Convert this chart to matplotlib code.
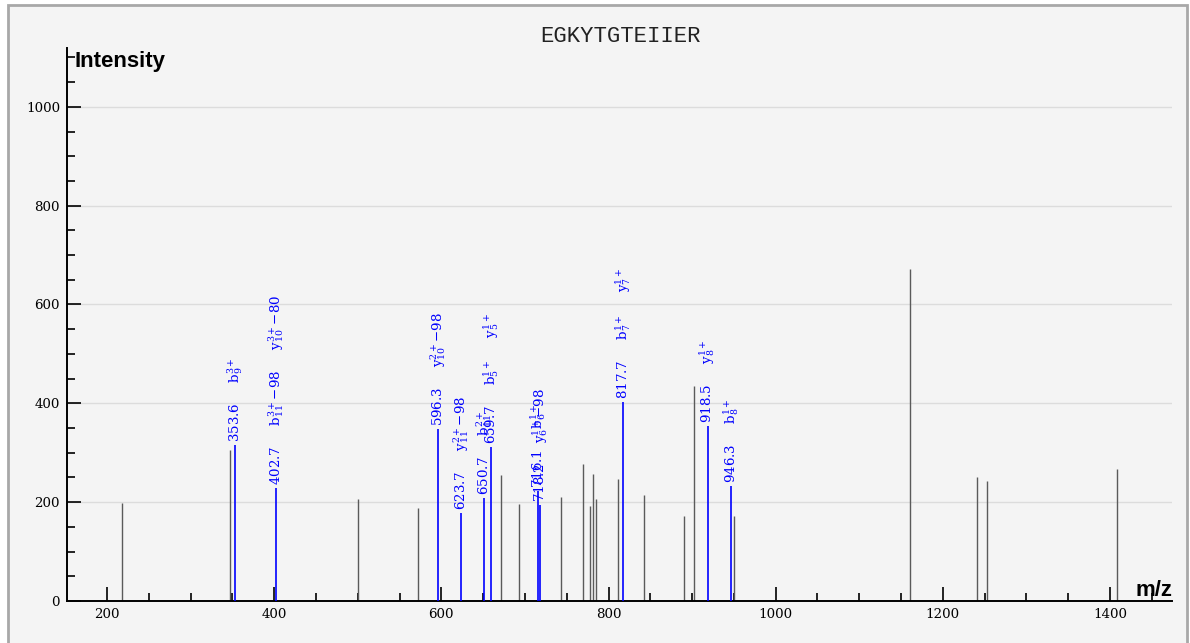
import matplotlib
matplotlib.use("Agg")
import matplotlib.pyplot as plt
from matplotlib.patches import Rectangle
from matplotlib.ticker import MultipleLocator

plt.rcParams["mathtext.fontset"] = "dejavuserif"

title = "EGKYTGTEIIER"

# unannotated peaks (m/z, intensity)
gray_mz = [218.3, 346.7, 500.3, 572.1, 670.9, 692.9, 743.2, 769.5, 777.4, 781.5,
           785.4, 811.7, 842.8, 889.9, 902.3, 949.7, 1160.8, 1240.4, 1253.2, 1408.8]
gray_int = [198, 306, 206, 188, 254, 196, 211, 278, 193, 257,
            207, 246, 215, 173, 435, 172, 672, 251, 243, 267]

# annotated (matched) peaks
ion_mz = [353.6, 402.7, 596.3, 623.7, 650.7, 659.7, 716.1, 718.2, 817.7, 918.5, 946.3]
ion_int = [316, 229, 348, 178, 208, 312, 223, 194, 403, 355, 233]
ion_annots = [
    [r"$\mathrm{b}_{9}^{3+}$"],
    [r"$\mathrm{b}_{11}^{3+}$" + "\u221298", r"$\mathrm{y}_{10}^{3+}$" + "\u221280"],
    [r"$\mathrm{y}_{10}^{2+}$" + "\u221298"],
    [r"$\mathrm{y}_{11}^{2+}$" + "\u221298"],
    [r"$\mathrm{b}_{11}^{2+}$"],
    [r"$\mathrm{b}_{5}^{1+}$", r"$\mathrm{y}_{5}^{1+}$"],
    [r"$\mathrm{b}_{6}^{1+}$"],
    [r"$\mathrm{y}_{6}^{1+}$" + "\u221298"],
    [r"$\mathrm{b}_{7}^{1+}$", r"$\mathrm{y}_{7}^{1+}$"],
    [r"$\mathrm{y}_{8}^{1+}$"],
    [r"$\mathrm{b}_{8}^{1+}$"],
]

y_ticks = [0, 200, 400, 600, 800, 1000]
x_ticks = [200, 400, 600, 800, 1000, 1200, 1400]

W, H = 1190, 643
fig = plt.figure(figsize=(W / 100, H / 100), dpi=100, facecolor="white")
fig.patches.append(Rectangle((8 / W, -0.02), (1187 - 8) / W, 1 - 5 / H + 0.02,
                             transform=fig.transFigure, facecolor="#f4f4f4",
                             edgecolor="#a8a8a8", lw=2, zorder=-10))

ax = fig.add_axes([67 / W, 1 - 601 / H, (1172 - 67) / W, (601 - 48) / H])
ax.set_facecolor("none")
ax.set_xlim(152.1, 1474.2)
ax.set_ylim(0, 1119)

for s in ["top", "right"]:
    ax.spines[s].set_visible(False)
for s in ["left", "bottom"]:
    ax.spines[s].set_linewidth(1.4)

ax.set_yticks(y_ticks)
ax.set_xticks(x_ticks)
ax.yaxis.set_minor_locator(MultipleLocator(50))
ax.xaxis.set_minor_locator(MultipleLocator(50))
ax.tick_params(which="major", direction="in", length=10, width=1.2, pad=5,
               labelsize=9.6)
ax.tick_params(which="minor", direction="in", length=6, width=1.2)
for lab in ax.get_xticklabels() + ax.get_yticklabels():
    lab.set_family("DejaVu Serif")

for y in y_ticks[1:]:
    ax.axhline(y, color="#dcdcdc", lw=1, zorder=0)

ax.vlines(gray_mz, 0, gray_int, colors="#5a5a5a", lw=1, zorder=2)
ax.vlines(ion_mz, 0, ion_int, colors="blue", lw=1.2, zorder=3)

sep = "     "
for mz, it, ann in zip(ion_mz, ion_int, ion_annots):
    s = f"{mz:.1f}" + sep + sep.join(ann)
    ax.annotate(s, xy=(mz, it), xytext=(0, 2.2), textcoords="offset points",
                rotation=90, ha="center", va="bottom", color="blue",
                fontsize=9.6, family="DejaVu Serif", zorder=4)

fig.text(620 / W, 1 - 37 / H, title, ha="center", va="center",
         family="Liberation Mono", fontsize=16, color="#222222")
fig.text(74 / W, 1 - 62 / H, "Intensity", ha="left", va="center",
         family="Liberation Sans", fontweight="bold", fontsize=16)
fig.text(1172 / W, 1 - 590 / H, "m/z", ha="right", va="center",
         family="Liberation Sans", fontweight="bold", fontsize=16)

fig.savefig("out.png", dpi=100, facecolor=fig.get_facecolor())
